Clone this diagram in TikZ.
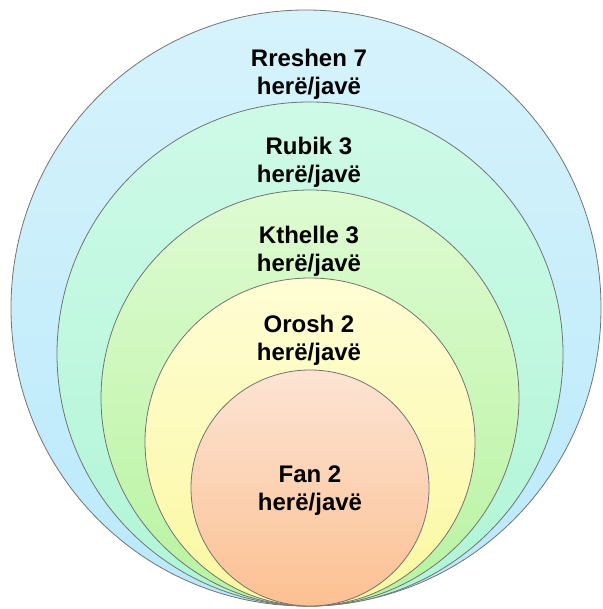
\documentclass[tikz,border=0pt]{standalone}
\usepackage{fontspec}
\setmainfont{Liberation Sans}
\definecolor{skytop}{RGB}{214,243,252}
\definecolor{skybot}{RGB}{186,233,250}
\definecolor{minttop}{RGB}{206,250,232}
\definecolor{mintbot}{RGB}{176,245,214}
\definecolor{leaftop}{RGB}{222,251,210}
\definecolor{leafbot}{RGB}{184,243,160}
\definecolor{lemontop}{RGB}{255,253,212}
\definecolor{lemonbot}{RGB}{250,248,160}
\definecolor{peachtop}{RGB}{252,228,212}
\definecolor{peachbot}{RGB}{252,192,146}
\tikzset{
  ring/.style={draw=black!55, line width=0.8pt},
  ringlabel/.style={font=\fontsize{24}{28}\selectfont\bfseries, align=center, inner sep=0pt}
}
\begin{document}
\begin{tikzpicture}[x=1pt,y=-1pt]
  \useasboundingbox (0,0) rectangle (602,609);
  % nested rings, all touching at the bottom
  \foreach \cx/\rx/\ry/\ctop/\cbot in {306/295/298/skytop/skybot,
      310/253/252/minttop/mintbot, 310/209/208/leaftop/leafbot,
      310/165/164/lemontop/lemonbot, 310/119/118/peachtop/peachbot}
    \path[ring, top color=\ctop, bottom color=\cbot]
      (\cx,{606-\ry}) ellipse[x radius=\rx pt, y radius=\ry pt];
  % labels
  \node[ringlabel] (rreshen) at (309,74) {Rreshen 7\\herë/javë};
  \node[ringlabel] (rubik) at (309,162) {Rubik 3\\herë/javë};
  \node[ringlabel] (kthelle) at (309,251) {Kthelle 3\\herë/javë};
  \node[ringlabel] (orosh) at (309,340) {Orosh 2\\herë/javë};
  \node[ringlabel] (fan) at (310,491) {Fan 2\\herë/javë};
\end{tikzpicture}
\end{document}
